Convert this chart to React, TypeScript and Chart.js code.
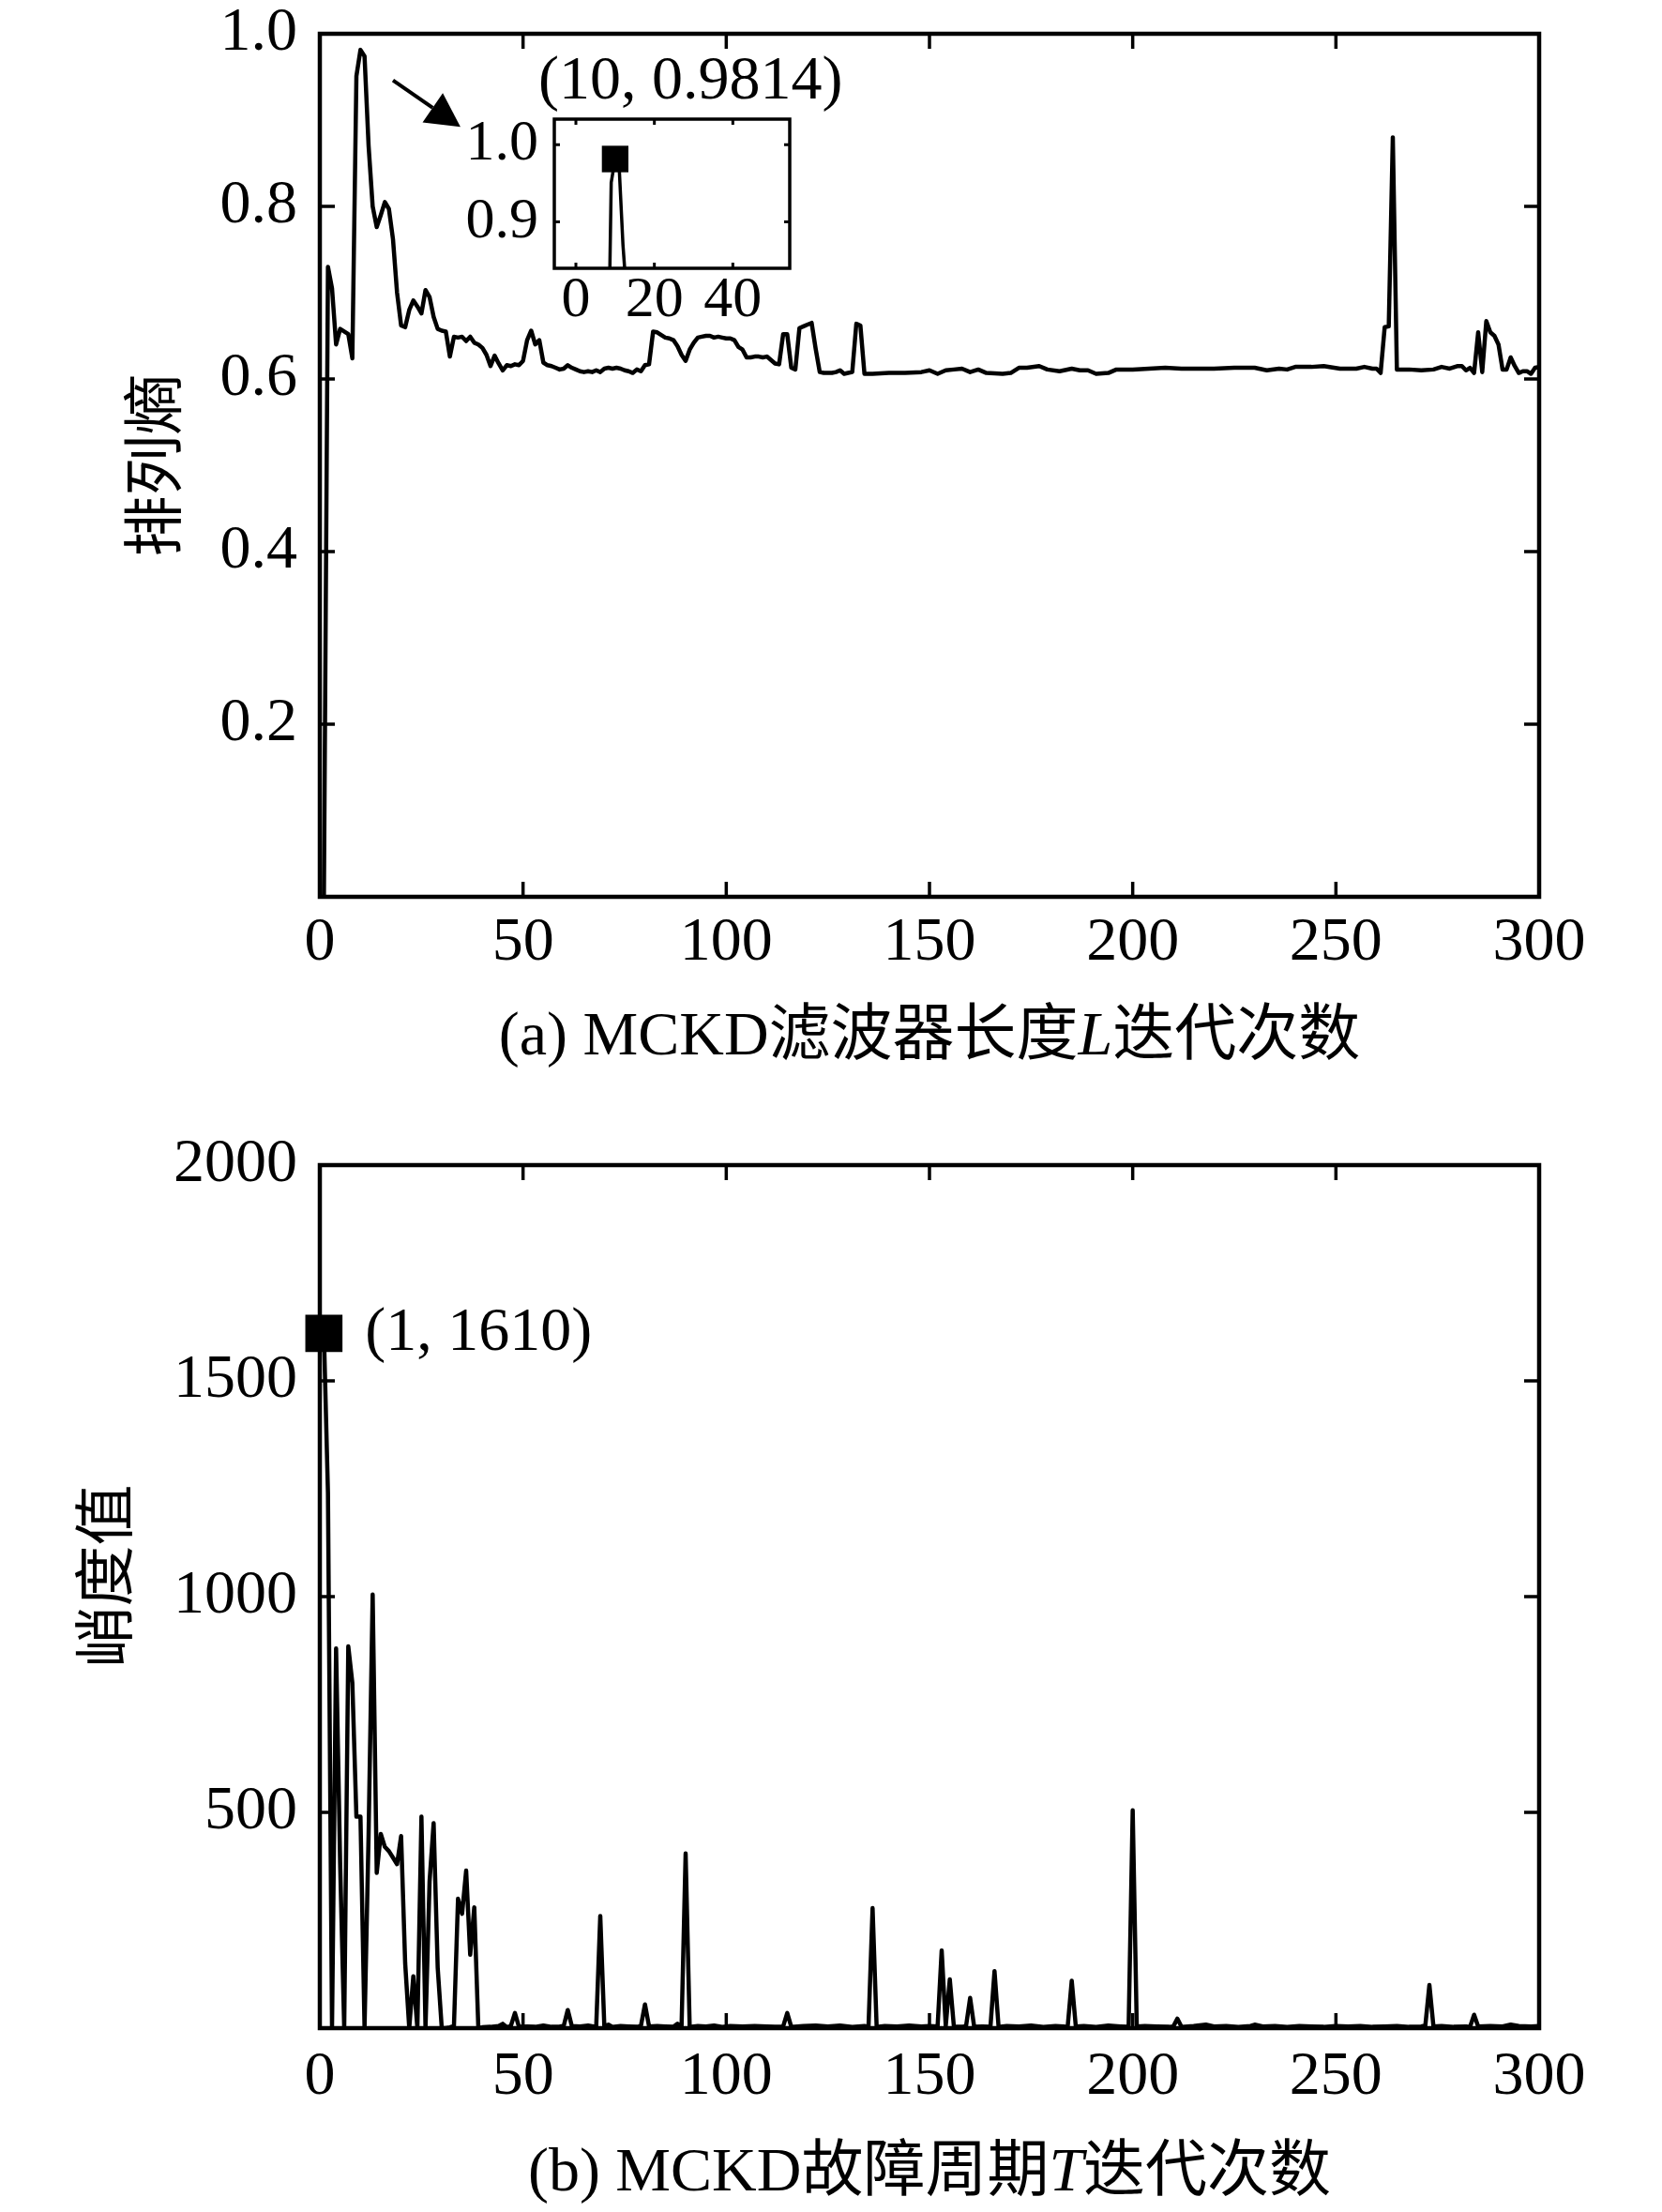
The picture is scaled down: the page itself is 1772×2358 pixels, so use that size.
import React, { useEffect, useRef } from 'react';
import { Chart, registerables } from 'chart.js';

Chart.register(...registerables);

const FONT = '"Liberation Serif", "Noto Sans CJK SC", serif';

// (a) permutation entropy against the filter length L iteration
const lIter = [
  1, 2, 3, 4, 5, 6, 7, 8, 9, 10, 11, 12, 13, 14, 15, 16, 17, 18, 19, 20,
  21, 22, 23, 24, 25, 26, 27, 28, 29, 30, 31, 32, 33, 34, 35, 36, 37, 38, 39, 40,
  41, 42, 43, 44, 45, 46, 47, 48, 49, 50, 51, 52, 53, 54, 55, 56, 57, 58, 59, 60,
  61, 62, 63, 64, 65, 66, 67, 68, 69, 70, 71, 72, 73, 74, 75, 76, 77, 78, 79, 80,
  81, 82, 83, 84, 85, 86, 87, 88, 89, 90, 91, 92, 93, 94, 95, 96, 97, 98, 99, 100,
  101, 102, 103, 104, 105, 106, 107, 108, 109, 110, 111, 112, 113, 114, 115, 116, 117, 118, 119, 120,
  121, 122, 123, 124, 125, 126, 127, 128, 129, 130, 131, 132, 133, 134,
  136, 140, 144, 148, 150, 152, 154, 156, 158, 160, 162, 164, 168, 170, 172, 174, 177, 179,
  182, 185, 187, 189, 191, 194, 196, 200, 204, 208, 212, 216, 220, 225, 230, 233, 236, 238,
  240, 244, 247, 251, 255, 257, 259, 260, 261, 262, 263, 264, 265, 266, 268, 271, 274, 276,
  278, 280, 281, 282, 283, 284, 285, 286, 287, 288, 289, 290, 291, 292, 293, 294, 295, 296,
  297, 298, 299, 300,
];
const entropy = [
  0.0, 0.73, 0.705, 0.64, 0.658, 0.655, 0.652, 0.624, 0.951, 0.9814, 0.974, 0.87, 0.8, 0.776, 0.79, 0.805, 0.797, 0.762, 0.7, 0.662,
  0.66, 0.68, 0.691, 0.684, 0.676, 0.703, 0.695, 0.672, 0.658, 0.656, 0.655, 0.626, 0.649, 0.648, 0.649, 0.644, 0.649, 0.642, 0.64, 0.636,
  0.628, 0.615, 0.627, 0.618, 0.61, 0.616, 0.615, 0.617, 0.616, 0.621, 0.645, 0.656, 0.64, 0.645, 0.619, 0.616, 0.615, 0.613, 0.611, 0.612,
  0.616, 0.613, 0.611, 0.609, 0.608, 0.609, 0.608, 0.61, 0.608, 0.612, 0.613, 0.612, 0.613, 0.612, 0.61, 0.609, 0.607, 0.611, 0.609, 0.616,
  0.617, 0.655, 0.654, 0.651, 0.648, 0.647, 0.645, 0.638, 0.628, 0.621, 0.634, 0.642, 0.648, 0.649, 0.65, 0.65, 0.648, 0.649, 0.648, 0.647,
  0.647, 0.645, 0.637, 0.634, 0.625, 0.625, 0.626, 0.626, 0.625, 0.626, 0.622, 0.618, 0.617, 0.652, 0.652, 0.613, 0.611, 0.659, 0.661, 0.663,
  0.665, 0.635, 0.608, 0.607, 0.607, 0.607, 0.608, 0.61, 0.606, 0.607, 0.608, 0.664, 0.662, 0.606,
  0.606, 0.607, 0.607, 0.608, 0.61, 0.606, 0.61, 0.611, 0.612, 0.608, 0.611, 0.607, 0.606, 0.607, 0.613, 0.613, 0.615, 0.611,
  0.609, 0.612, 0.61, 0.61, 0.606, 0.607, 0.611, 0.611, 0.612, 0.613, 0.612, 0.612, 0.612, 0.613, 0.613, 0.61, 0.612, 0.611,
  0.614, 0.614, 0.615, 0.612, 0.612, 0.614, 0.612, 0.612, 0.607, 0.66, 0.661, 0.88, 0.611, 0.611, 0.611, 0.61, 0.611, 0.614,
  0.612, 0.615, 0.615, 0.61, 0.613, 0.607, 0.654, 0.608, 0.667, 0.654, 0.65, 0.64, 0.611, 0.611, 0.625, 0.615, 0.607, 0.609,
  0.609, 0.606, 0.613, 0.614,
];

// (b) kurtosis against the fault period T iteration
const tIter = [
  1, 2, 3, 4, 5, 6, 7, 8, 9, 10, 11, 12, 13, 14, 15, 16, 17, 18, 19, 20,
  21, 22, 23, 24, 25, 26, 27, 28, 29, 30, 31, 32, 33, 34, 35, 36, 37, 38, 39, 40,
  42, 44, 45, 46, 47, 48, 49, 51, 53, 55, 57, 59, 60, 61, 62, 64, 66, 68, 69, 70,
  71, 72, 74, 76, 78, 79, 80, 81, 83, 85, 87, 88, 89, 90, 91, 93, 95, 97, 99, 101,
  104, 107, 110, 112, 114, 115, 116, 119, 122, 125, 128, 131, 134, 135, 136, 137, 139, 142, 145, 148,
  150, 152, 153, 154, 155, 156, 158, 159, 160, 161, 163, 165, 166, 167, 169, 172, 175, 178, 181, 183,
  184, 185, 186, 188, 191, 194, 197, 199, 200, 201, 203, 206, 209, 210, 211, 212, 215, 218, 220, 223,
  226, 229, 230, 232, 235, 238, 241, 244, 247, 250, 253, 256, 259, 262, 265, 268, 271, 272, 273, 274,
  276, 279, 282, 283, 284, 285, 288, 291, 293, 295, 298, 300,
];
const kurtosis = [
  1610, 1240, 0, 880, 380, 0, 885, 800, 490, 490, 0, 450, 1005, 360, 450, 420, 410, 395, 380, 445,
  150, 0, 120, 0, 490, 0, 340, 475, 140, 0, 0, 2, 5, 300, 265, 365, 170, 280, 0, 2,
  3, 5, 10, 2, 5, 35, 3, 4, 3, 6, 3, 4, 5, 42, 5, 4, 6, 3, 260, 4,
  8, 3, 5, 4, 3, 5, 55, 4, 5, 4, 3, 10, 3, 405, 3, 5, 4, 6, 3, 5,
  4, 5, 4, 3, 4, 35, 3, 5, 6, 4, 6, 3, 5, 3, 278, 3, 5, 4, 6, 4,
  5, 4, 180, 5, 113, 4, 3, 5, 70, 3, 4, 3, 132, 3, 5, 4, 6, 3, 5, 4,
  3, 110, 4, 5, 3, 6, 4, 3, 505, 4, 5, 4, 3, 4, 22, 3, 5, 8, 4, 5,
  3, 5, 8, 4, 5, 3, 5, 4, 3, 5, 4, 5, 3, 4, 5, 3, 4, 6, 100, 4,
  5, 3, 4, 3, 31, 4, 5, 4, 8, 5, 4, 5,
];

const xTicks = [0, 50, 100, 150, 200, 250, 300];
const entropyTicks = [0, 0.2, 0.4, 0.6, 0.8, 1.0];
const kurtosisTicks = [0, 500, 1000, 1500, 2000];
const insetXTicks = [0, 20, 40];
const insetYTicks = [0.9, 1.0];

const bestL = { x: 10, y: 0.9814 };
const bestT = { x: 1, y: 1610 };

const toPoints = (xs: number[], ys: number[]) => xs.map((x, i) => ({ x, y: ys[i] }));

// stop the tick labels from pushing the plot area about
const noOverflow = (s: any) => {
  s.paddingTop = 0;
  s.paddingBottom = 0;
  s.paddingLeft = 0;
  s.paddingRight = 0;
};

// box round the plot area with inward ticks on all four sides
const framePlugin = {
  id: 'frame',
  beforeDatasetsDraw(chart: any, _args: any, opts: any) {
    if (!opts.fill) return;
    const { ctx, chartArea: c } = chart;
    ctx.save();
    ctx.fillStyle = '#fff';
    ctx.fillRect(c.left, c.top, c.right - c.left, c.bottom - c.top);
    ctx.restore();
  },
  afterDraw(chart: any, _args: any, opts: any) {
    const { ctx, chartArea: c, scales } = chart;
    ctx.save();
    ctx.strokeStyle = '#000';
    ctx.lineWidth = opts.tickWidth;
    ctx.beginPath();
    for (const t of scales.x.ticks) {
      const px = scales.x.getPixelForValue(t.value);
      ctx.moveTo(px, c.bottom);
      ctx.lineTo(px, c.bottom - opts.tickLen);
      ctx.moveTo(px, c.top);
      ctx.lineTo(px, c.top + opts.tickLen);
    }
    for (const t of scales.y.ticks) {
      const py = scales.y.getPixelForValue(t.value);
      ctx.moveTo(c.left, py);
      ctx.lineTo(c.left + opts.tickLen, py);
      ctx.moveTo(c.right, py);
      ctx.lineTo(c.right - opts.tickLen, py);
    }
    ctx.stroke();
    ctx.lineWidth = opts.width;
    ctx.strokeRect(c.left, c.top, c.right - c.left, c.bottom - c.top);
    ctx.restore();
  },
};

function textPlugin(draw: (chart: any) => void) {
  return { id: 'texts', afterDraw: (chart: any) => draw(chart) };
}

function drawTitle(ctx: any, parts: { text: string; italic?: boolean }[], cx: number, cy: number, size: number) {
  const fonts = parts.map((p) => `${p.italic ? 'italic ' : ''}${size}px ${FONT}`);
  const widths = parts.map((p, i) => {
    ctx.font = fonts[i];
    return ctx.measureText(p.text).width;
  });
  let x = cx - widths.reduce((a, b) => a + b, 0) / 2;
  ctx.textAlign = 'left';
  ctx.textBaseline = 'middle';
  parts.forEach((p, i) => {
    ctx.font = fonts[i];
    ctx.fillText(p.text, x, cy);
    x += widths[i];
  });
}

function drawYLabel(ctx: any, text: string, x: number, y: number, size: number) {
  ctx.save();
  ctx.translate(x, y);
  ctx.rotate(-Math.PI / 2);
  ctx.font = `${size}px ${FONT}`;
  ctx.textAlign = 'center';
  ctx.textBaseline = 'middle';
  ctx.fillText(text, 0, 0);
  ctx.restore();
}

function drawArrow(ctx: any, x0: number, y0: number, x1: number, y1: number) {
  const a = Math.atan2(y1 - y0, x1 - x0);
  const len = 36;
  const half = 19;
  const bx = x1 - len * Math.cos(a);
  const by = y1 - len * Math.sin(a);
  ctx.save();
  ctx.strokeStyle = '#000';
  ctx.fillStyle = '#000';
  ctx.lineWidth = 4;
  ctx.beginPath();
  ctx.moveTo(x0, y0);
  ctx.lineTo(bx, by);
  ctx.stroke();
  ctx.beginPath();
  ctx.moveTo(x1, y1);
  ctx.lineTo(bx - half * Math.sin(a), by + half * Math.cos(a));
  ctx.lineTo(bx + half * Math.sin(a), by - half * Math.cos(a));
  ctx.closePath();
  ctx.fill();
  ctx.restore();
}

const tickFont = { family: FONT, size: 66, lineHeight: 1.2 };
const noGrid = { display: false, drawTicks: false };

function mainOptions(opts: {
  padTop: number;
  xHeight: number;
  xPad: number;
  yMax: number;
  yTicks: number[];
  yFormat: (v: number) => string;
}): any {
  return {
    responsive: false,
    animation: false,
    devicePixelRatio: 1,
    layout: { padding: { top: opts.padTop, right: 131, left: 0, bottom: 0 } },
    plugins: {
      legend: { display: false },
      tooltip: { enabled: false },
      frame: { width: 4.5, tickWidth: 3.5, tickLen: 16 },
    },
    scales: {
      x: {
        type: 'linear',
        min: 0,
        max: 300,
        afterBuildTicks: (s: any) => {
          s.ticks = xTicks.map((value) => ({ value }));
        },
        afterFit: (s: any) => {
          s.height = opts.xHeight;
          noOverflow(s);
        },
        grid: noGrid,
        border: { display: false },
        ticks: { color: '#000', font: tickFont, padding: opts.xPad, maxRotation: 0, autoSkip: false },
      },
      y: {
        type: 'linear',
        min: 0,
        max: opts.yMax,
        afterBuildTicks: (s: any) => {
          s.ticks = opts.yTicks.map((value) => ({ value }));
        },
        afterFit: (s: any) => {
          s.width = 341;
          noOverflow(s);
        },
        grid: noGrid,
        border: { display: false },
        ticks: {
          color: '#000',
          font: tickFont,
          padding: 24,
          autoSkip: false,
          callback: (v: any) => (Number(v) === 0 ? '' : opts.yFormat(Number(v))),
        },
      },
    },
  };
}

export default function App() {
  const entropyRef = useRef<HTMLCanvasElement>(null);
  const insetRef = useRef<HTMLCanvasElement>(null);
  const kurtosisRef = useRef<HTMLCanvasElement>(null);

  useEffect(() => {
    const entropyChart = new Chart(entropyRef.current!, {
      type: 'line',
      data: {
        datasets: [
          {
            data: toPoints(lIter, entropy),
            borderColor: '#000',
            borderWidth: 4.5,
            borderJoinStyle: 'round',
            pointRadius: 0,
            tension: 0,
          },
        ],
      },
      options: mainOptions({
        padTop: 36,
        xHeight: 224,
        xPad: 10,
        yMax: 1,
        yTicks: entropyTicks,
        yFormat: (v) => v.toFixed(1),
      }),
      plugins: [
        framePlugin,
        textPlugin((chart) => {
          const { ctx, chartArea: c, scales } = chart;
          ctx.save();
          ctx.fillStyle = '#000';
          drawYLabel(ctx, '排列熵', c.left - 171, (c.top + c.bottom) / 2, 65);
          drawTitle(
            ctx,
            [{ text: '(a) MCKD滤波器长度' }, { text: 'L', italic: true }, { text: '迭代次数' }],
            (c.left + c.right) / 2,
            c.bottom + 151,
            66,
          );
          ctx.font = `66px ${FONT}`;
          ctx.textAlign = 'center';
          ctx.textBaseline = 'middle';
          ctx.fillText(`(${bestL.x}, ${bestL.y})`, scales.x.getPixelForValue(91.2), scales.y.getPixelForValue(0.944));
          drawArrow(
            ctx,
            scales.x.getPixelForValue(18),
            scales.y.getPixelForValue(0.946),
            scales.x.getPixelForValue(34.6),
            scales.y.getPixelForValue(0.892),
          );
          ctx.restore();
        }),
      ],
    } as any);

    const insetChart = new Chart(insetRef.current!, {
      type: 'line',
      data: {
        datasets: [
          {
            data: toPoints(lIter, entropy),
            borderColor: '#000',
            borderWidth: 3.5,
            pointRadius: 0,
            tension: 0,
            clip: 0,
          },
          {
            data: [bestL],
            showLine: false,
            pointStyle: 'rect',
            pointRadius: 20,
            pointBorderWidth: 0,
            pointBackgroundColor: '#000',
            clip: false,
          },
        ],
      },
      options: {
        responsive: false,
        animation: false,
        devicePixelRatio: 1,
        layout: { padding: { top: 87, right: 58, left: 0, bottom: 0 } },
        plugins: {
          legend: { display: false },
          tooltip: { enabled: false },
          frame: { width: 3.5, tickWidth: 3, tickLen: 6, fill: true },
        },
        scales: {
          x: {
            type: 'linear',
            min: -5.5,
            max: 54.5,
            afterBuildTicks: (s: any) => {
              s.ticks = insetXTicks.map((value) => ({ value }));
            },
            afterFit: (s: any) => {
              s.height = 54;
              noOverflow(s);
            },
            grid: noGrid,
            border: { display: false },
            ticks: { color: '#000', font: { family: FONT, size: 62, lineHeight: 1 }, padding: 4, maxRotation: 0, autoSkip: false },
          },
          y: {
            type: 'linear',
            min: 0.84,
            max: 1.033,
            afterBuildTicks: (s: any) => {
              s.ticks = insetYTicks.map((value) => ({ value }));
            },
            afterFit: (s: any) => {
              s.width = 111;
              noOverflow(s);
            },
            grid: noGrid,
            border: { display: false },
            ticks: {
              color: '#000',
              font: { family: FONT, size: 62, lineHeight: 1 },
              padding: 17,
              autoSkip: false,
              callback: (v: any) => Number(v).toFixed(1),
            },
          },
        },
      },
      plugins: [framePlugin],
    } as any);

    const kurtosisChart = new Chart(kurtosisRef.current!, {
      type: 'line',
      data: {
        datasets: [
          {
            data: toPoints(tIter, kurtosis),
            borderColor: '#000',
            borderWidth: 4.5,
            borderJoinStyle: 'round',
            pointRadius: 0,
            tension: 0,
          },
          {
            data: [bestT],
            showLine: false,
            pointStyle: 'rect',
            pointRadius: 28,
            pointBorderWidth: 0,
            pointBackgroundColor: '#000',
            clip: false,
          },
        ],
      },
      options: mainOptions({
        padTop: 62,
        xHeight: 196,
        xPad: 13,
        yMax: 2000,
        yTicks: kurtosisTicks,
        yFormat: (v) => String(v),
      }),
      plugins: [
        framePlugin,
        textPlugin((chart) => {
          const { ctx, chartArea: c, scales } = chart;
          ctx.save();
          ctx.fillStyle = '#000';
          drawYLabel(ctx, '峭度值', c.left - 223, (c.top + c.bottom) / 2 - 22, 65);
          drawTitle(
            ctx,
            [{ text: '(b) MCKD故障周期' }, { text: 'T', italic: true }, { text: '迭代次数' }],
            (c.left + c.right) / 2,
            c.bottom + 156,
            66,
          );
          ctx.font = `66px ${FONT}`;
          ctx.textAlign = 'left';
          ctx.textBaseline = 'middle';
          ctx.fillText(
            `(${bestT.x}, ${bestT.y})`,
            scales.x.getPixelForValue(bestT.x) + 44,
            scales.y.getPixelForValue(bestT.y),
          );
          ctx.restore();
        }),
      ],
    } as any);

    return () => {
      entropyChart.destroy();
      insetChart.destroy();
      kurtosisChart.destroy();
    };
  }, []);

  return (
    <div style={{ position: 'absolute', left: 0, top: 0, width: 1772, height: 2358, background: '#fff' }}>
      <canvas ref={entropyRef} width={1772} height={1180} style={{ position: 'absolute', left: 0, top: 0, display: 'block' }} />
      <canvas ref={insetRef} width={420} height={300} style={{ position: 'absolute', left: 480, top: 40, display: 'block' }} />
      <canvas ref={kurtosisRef} width={1772} height={1178} style={{ position: 'absolute', left: 0, top: 1180, display: 'block' }} />
    </div>
  );
}
